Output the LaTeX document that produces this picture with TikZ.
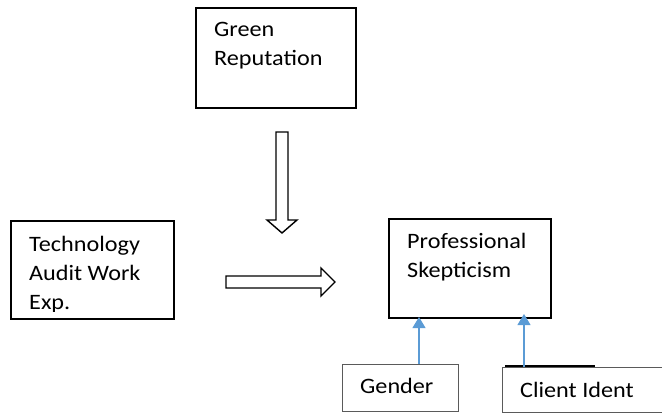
\documentclass[tikz,border=0pt]{standalone}
\usepackage{fontspec}
\setmainfont{Carlito}[FakeStretch=1.1]
\usetikzlibrary{arrows.meta,positioning,calc}
\definecolor{wordblue}{RGB}{91,155,213}
\definecolor{boxgray}{RGB}{90,90,90}
\tikzset{
  box/.style     = {draw=black, line width=1.8pt, inner sep=0pt, anchor=north west},
  boxthin/.style = {draw=boxgray, line width=0.9pt, inner sep=0pt, anchor=north west},
  txt/.style     = {inner sep=0pt, anchor=base west, align=left,
                    font=\fontsize{22}{29}\selectfont},
  blockar/.style = {draw=black, line width=1.4pt, fill=white, line join=miter},
  blu/.style     = {draw=wordblue, line width=1.1pt,
                    -{Triangle[width=13pt,length=11pt]}, wordblue},
}
\begin{document}
\begin{tikzpicture}[x=1pt,y=-1pt]
  \useasboundingbox (0,0) rectangle (662,413);
  % boxes
  \node[box, minimum width=160pt, minimum height=100pt] (green) at (195,7) {};
  \node[box, minimum width=163pt, minimum height=98pt] (tech) at (10,220) {};
  \node[box, minimum width=162pt, minimum height=99pt] (skept) at (388,218) {};
  \node[boxthin, minimum width=116pt, minimum height=47pt] (gender) at (342,364) {};
  \node[boxthin, minimum width=170pt, minimum height=45pt] (client) at (502,367) {};
  \draw[line width=1.8pt] (client.north west) ++(3,-1) -- ++(90,0);
  % texts (base = last line)
  \node[txt] (greentxt) at (214,65) {Green\\Reputation};
  \begin{scope}
    \clip (10,220) rectangle (173,311);
    \node[txt] (techtxt) at (29,309) {Technology\\Audit Work\\Exp.};
  \end{scope}
  \node[txt] (skepttxt) at (407,277) {Professional\\Skepticism};
  \node[txt] (gendertxt) at (360,393) {Gender};
  \node[txt] (clienttxt) at (520,397) {Client Ident};
  % block arrows
  \draw[blockar] (276,132) -- (288,132) -- (288,220) -- (297,220) -- (282,233)
    -- (267,220) -- (276,220) -- cycle;
  \draw[blockar] (226,276) -- (321,276) -- (321,268) -- (335,282) -- (321,296)
    -- (321,288) -- (226,288) -- cycle;
  % moderators
  \coordinate (gtip) at (419,317);
  \coordinate (ctip) at (524,314);
  \draw[blu] (gender.north -| gtip) -- (gtip);
  \draw[blu] (client.north -| ctip) -- (ctip);
\end{tikzpicture}
\end{document}
